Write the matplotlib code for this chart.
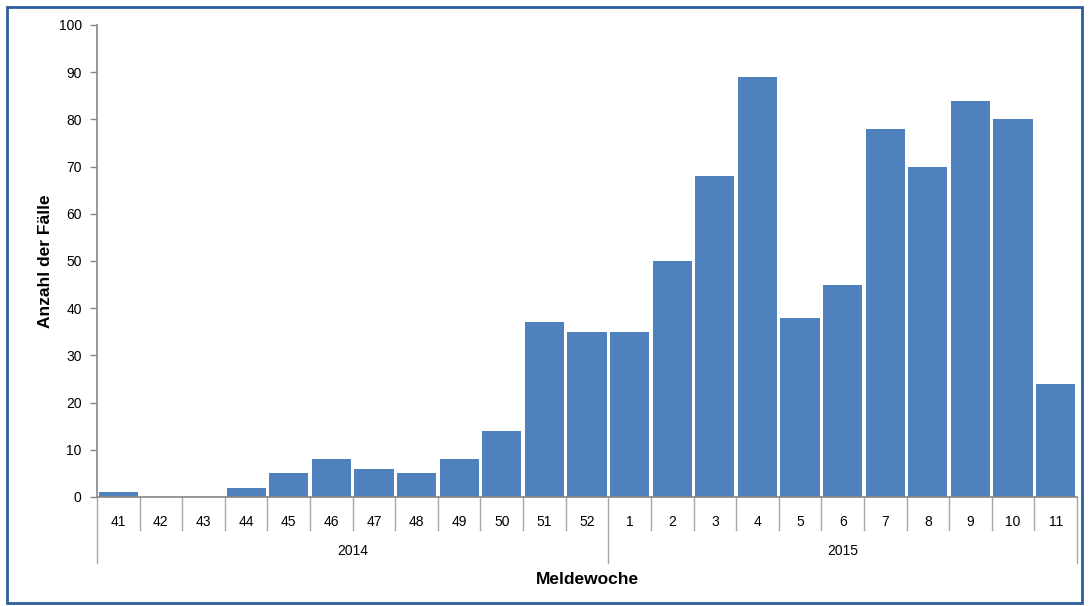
import matplotlib.pyplot as plt
from matplotlib.patches import Rectangle
import matplotlib.transforms as mtransforms

plt.rcParams['font.family'] = ['Liberation Sans', 'DejaVu Sans']

# Meldewochen und Fallzahlen
weeks = ['41', '42', '43', '44', '45', '46', '47', '48', '49', '50', '51', '52',
         '1', '2', '3', '4', '5', '6', '7', '8', '9', '10', '11']
cases = [1, 0, 0, 2, 5, 8, 6, 5, 8, 14, 37, 35,
         35, 50, 68, 89, 38, 45, 78, 70, 84, 80, 24]
years = ['2014', '2015']
weeks_per_year = [12, 11]

W, H = 1089, 606
fig = plt.figure(figsize=(W / 100, H / 100), dpi=100)
ax = fig.add_axes([97 / W, (H - 497) / H, 980 / W, 472 / H])

x = list(range(len(weeks)))
ax.bar(x, cases, width=0.92, color='#4F81BD', zorder=2)

ax.set_xlim(-0.5, len(weeks) - 0.5)
ax.set_ylim(0, 100)
ax.set_yticks(range(0, 101, 10))
ax.tick_params(axis='y', length=5, width=1, color='#868686', labelsize=10, pad=6)
ax.set_xticks(x)
ax.set_xticklabels(weeks)
ax.tick_params(axis='x', length=0, labelsize=10, pad=13)

for side in ['top', 'right']:
    ax.spines[side].set_visible(False)
for side in ['left', 'bottom']:
    ax.spines[side].set_color('#868686')
    ax.spines[side].set_linewidth(1.2)

# Trennlinien unter der Achse (Wochen und Jahre)
trans = mtransforms.blended_transform_factory(ax.transData, ax.transAxes)
short = 33 / 472
long_ = 66 / 472
boundaries = [0]
for n in weeks_per_year:
    boundaries.append(boundaries[-1] + n)
for i in range(len(weeks) + 1):
    depth = long_ if i in boundaries else short
    ax.plot([i - 0.5, i - 0.5], [0, -depth], color='#A6A6A6', lw=1,
            transform=trans, clip_on=False)

start = 0
for year, n in zip(years, weeks_per_year):
    ax.text(start + (n - 1) / 2, -54 / 472, year, transform=trans,
            ha='center', va='center', fontsize=10)
    start += n

ax.set_xlabel('Meldewoche', fontsize=12.5, fontweight='bold', labelpad=31)
ax.set_ylabel('Anzahl der Fälle', fontsize=12.5, fontweight='bold', labelpad=4)

# Rahmen um das Diagramm
fig.patches.append(Rectangle((7 / W, 3 / H), 1 - 14 / W, 1 - 10 / H,
                             transform=fig.transFigure, fill=False,
                             edgecolor='#2E5D9C', lw=2))

fig.savefig('out.png', dpi=100)
